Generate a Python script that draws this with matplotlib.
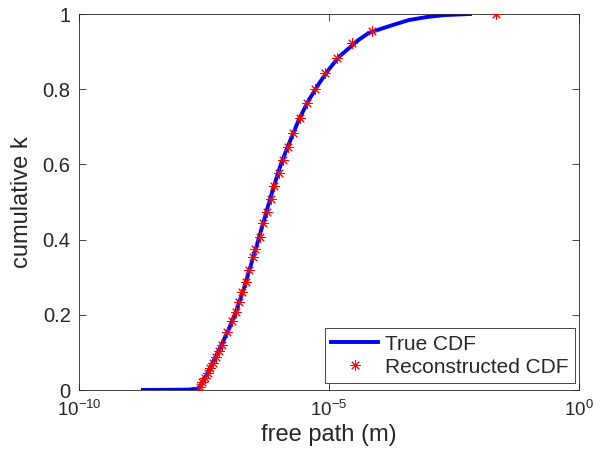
import matplotlib
matplotlib.use("Agg")
import matplotlib.pyplot as plt
from matplotlib.ticker import FixedLocator, NullLocator, FixedFormatter

plt.rcParams["font.family"] = ["Liberation Sans", "DejaVu Sans"]
plt.rcParams["mathtext.fontset"] = "custom"
plt.rcParams["mathtext.rm"] = "Liberation Sans"
plt.rcParams["mathtext.it"] = "Liberation Sans:italic"
plt.rcParams["mathtext.default"] = "regular"

# true CDF
true_path = [1.9e-9, 1.58e-8, 2.40e-8, 2.63e-8, 3.55e-8, 5.01e-8, 7.08e-8,
             1.00e-7, 1.41e-7, 2.00e-7, 2.82e-7, 3.98e-7, 5.62e-7, 7.94e-7,
             1.12e-6, 1.58e-6, 2.51e-6, 3.98e-6, 6.31e-6, 1.00e-5, 1.58e-5,
             3.98e-5, 6.31e-5, 1.91e-4, 3.98e-4, 9.12e-4, 2.00e-3, 6.61e-3]
true_cdf = [0.0, 0.001, 0.004, 0.01, 0.04, 0.08, 0.12,
            0.163, 0.212, 0.272, 0.338, 0.405, 0.475, 0.543,
            0.605, 0.655, 0.72, 0.772, 0.815, 0.853, 0.886,
            0.932, 0.95, 0.971, 0.984, 0.992, 0.997, 1.0]

# reconstructed CDF samples
rec_path = [2.63e-8, 2.95e-8, 3.31e-8, 3.72e-8, 4.17e-8, 4.79e-8, 5.50e-8,
            6.31e-8, 7.24e-8, 9.12e-8, 1.15e-7, 1.38e-7, 1.58e-7, 1.82e-7,
            2.19e-7, 2.51e-7, 3.02e-7, 3.31e-7, 4.17e-7, 4.79e-7, 5.75e-7,
            6.92e-7, 7.94e-7, 1.00e-6, 1.20e-6, 1.51e-6, 1.91e-6, 2.63e-6,
            3.63e-6, 5.25e-6, 8.32e-6, 1.45e-5, 2.88e-5, 7.24e-5, 2.19e-2]
rec_cdf = [0.009, 0.02, 0.032, 0.045, 0.059, 0.073, 0.088,
           0.104, 0.120, 0.154, 0.184, 0.207, 0.234, 0.261,
           0.287, 0.319, 0.354, 0.375, 0.407, 0.444, 0.473,
           0.508, 0.542, 0.577, 0.612, 0.646, 0.684, 0.723,
           0.763, 0.800, 0.843, 0.883, 0.923, 0.955, 1.0]

xticks = [1e-10, 1e-5, 1e0]
xtick_labels = [r"$10^{-10}$", r"$10^{-5}$", r"$10^{0}$"]
yticks = [0, 0.2, 0.4, 0.6, 0.8, 1]
ytick_labels = ["0", "0.2", "0.4", "0.6", "0.8", "1"]

dark = (0.15, 0.15, 0.15)

fig = plt.figure(figsize=(6.06, 4.61), dpi=100)
ax = fig.add_axes([79 / 606, 71 / 461, 500 / 606, 376 / 461])

ax.plot(true_path, true_cdf, color="blue", lw=2.8, label="True CDF", zorder=2)
ax.plot(rec_path, rec_cdf, ls="none", marker=(8, 2, 0), ms=7.5, mew=0.7,
        color="red", label="Reconstructed CDF", zorder=3)

ax.set_xscale("log")
ax.set_xlim(1e-10, 1e0)
ax.set_ylim(0, 1)
ax.xaxis.set_major_locator(FixedLocator(xticks))
ax.xaxis.set_major_formatter(FixedFormatter(xtick_labels))
ax.xaxis.set_minor_locator(NullLocator())
ax.set_yticks(yticks)
ax.set_yticklabels(ytick_labels)

ax.tick_params(direction="in", length=5, width=0.6, colors=dark,
               top=True, right=True)
ax.tick_params(axis="y", labelsize=14.5, pad=6)
ax.tick_params(axis="x", labelsize=13.5, pad=7)
for s in ax.spines.values():
    s.set_color(dark)
    s.set_linewidth(0.6)

ax.set_xlabel("free path (m)", fontsize=17, color=dark, labelpad=3)
ax.set_ylabel("cumulative k", fontsize=17, color=dark, labelpad=7)

leg = ax.legend(loc="lower right", bbox_to_anchor=(0.992, 0.0186),
                borderaxespad=0, fontsize=15, fancybox=False,
                edgecolor=dark, framealpha=1,
                handlelength=2.25, handletextpad=0.35, borderpad=0.3,
                labelspacing=0.2)
leg.get_frame().set_linewidth(0.6)
for t in leg.get_texts():
    t.set_color(dark)

fig.savefig("out.png", dpi=100)
